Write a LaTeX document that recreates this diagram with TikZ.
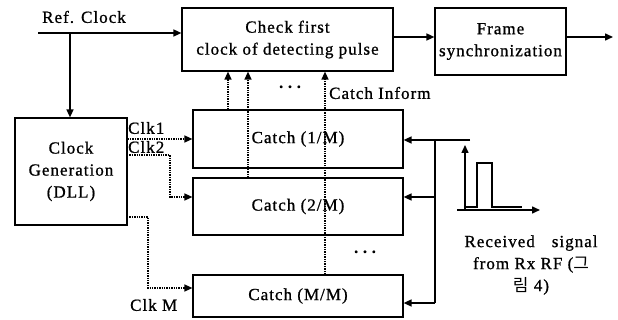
\documentclass[tikz,border=0pt]{standalone}
\usepackage{fontspec}
\setmainfont{Liberation Serif}[LetterSpace=6, FakeBold=0.9]
\newfontfamily\kr{Noto Sans CJK KR}
\usetikzlibrary{arrows.meta}
\begin{document}
\begin{tikzpicture}[x=1pt,y=-1pt,
  every node/.style={font=\fontsize{17}{22}\selectfont, inner sep=0pt},
  blk/.style={draw, line width=1.2pt, align=center},
  conn/.style={line width=1.5pt, -{Triangle[length=8pt,width=7pt]}},
  line/.style={line width=1.5pt},
  dconn/.style={line width=1.4pt, densely dotted, -{Triangle[length=8pt,width=7pt]}},
  lbl/.style={},
  dots/.style={font=\fontsize{11}{11}\selectfont}]
\useasboundingbox (0,0) rectangle (618,320);
% blocks
\node[blk, minimum width=211pt, minimum height=63pt] (check) at (287.5,39.5) {Check first\\clock of detecting pulse};
\node[blk, minimum width=131pt, minimum height=67pt] (frame) at (500.5,41.5) {Frame\\synchronization};
\node[blk, minimum width=112pt, minimum height=107pt] (clk) at (71,171.5) {Clock\\Generation\\(DLL)};
\node[blk, minimum width=210pt, minimum height=58pt] (c1) at (298,139) {Catch (1/M)};
\node[blk, minimum width=210pt, minimum height=57pt] (c2) at (298,206.5) {Catch (2/M)};
\node[blk, minimum width=210pt, minimum height=42pt] (cm) at (298,296) {Catch (M/M)};
% labels
\node[lbl] (ref) at (84,17) {Ref. Clock};
\node[lbl, anchor=west] (ci) at (329,93) {Catch Inform};
\node[lbl, anchor=west] (l1) at (128,128) {Clk1};
\node[lbl, anchor=west] (l2) at (128,147) {Clk2};
\node[lbl, anchor=west] (lm) at (130,305) {Clk M};
\node[dots] (d1) at (290,88) {\textbullet\hspace{5pt}\textbullet\hspace{5pt}\textbullet};
\node[dots] (d2) at (365,253) {\textbullet\hspace{5pt}\textbullet\hspace{5pt}\textbullet};
\node[lbl, align=center] (rx) at (531,265) {Received\quad signal\\from Rx RF ({\kr 그}\\{\kr 림} 4)};
% ref clock
\coordinate (rs) at (38,33);
\coordinate (br) at (70,33);
\draw[conn] (rs) -- (rs -| check.west);
\draw[conn] (br) -- (br |- clk.north);
% check -> frame -> out
\coordinate (cf) at (393,37);
\draw[conn] (cf) -- (cf -| frame.west);
\coordinate (fo) at (566,37);
\coordinate (out) at (613,37);
\draw[conn] (fo) -- (out);
% catch inform arrows
\coordinate (u1) at (228,0);
\coordinate (u2) at (248,0);
\coordinate (u3) at (325,0);
\draw[dconn] (u1 |- c1.north) -- (u1 |- check.south);
\draw[dconn] (u2 |- c2.north) -- (u2 |- check.south);
\draw[dconn] (u3 |- cm.north) -- (u3 |- check.south);
% clocks
\draw[dconn] (c1.west -| clk.east) -- (c1.west);
\coordinate (k2a) at (127,155);
\coordinate (k2b) at (170,155);
\coordinate (k2c) at (170,197);
\draw[dconn] (k2a) -- (k2b) -- (k2c) -- (k2c -| c2.west);
\coordinate (kma) at (127,217);
\coordinate (kmb) at (148,217);
\coordinate (kmc) at (148,288);
\draw[dconn] (kma) -- (kmb) -- (kmc) -- (kmc -| cm.west);
% received bus
\coordinate (bs) at (470,140);
\coordinate (bt) at (435,140);
\coordinate (b2) at (435,197);
\coordinate (bm) at (435,303);
\draw[conn] (bs) -- (bs -| c1.east);
\draw[line] (bt) -- (bm);
\draw[conn] (b2) -- (b2 -| c2.east);
\draw[conn] (bm) -- (bm -| cm.east);
% pulse graph
\coordinate (ya) at (465,210);
\coordinate (yb) at (465,145);
\coordinate (xa) at (457,210);
\coordinate (xb) at (540,210);
\draw[conn] (ya) -- (yb);
\draw[conn] (xa) -- (xb);
\coordinate (p0) at (465,207);
\coordinate (p1) at (477,207);
\coordinate (p2) at (477,163);
\coordinate (p3) at (492,163);
\coordinate (p4) at (492,207);
\coordinate (p5) at (522,207);
\draw[line width=1.2pt] (p0) -- (p1) -- (p2) -- (p3) -- (p4) -- (p5);
\end{tikzpicture}
\end{document}
